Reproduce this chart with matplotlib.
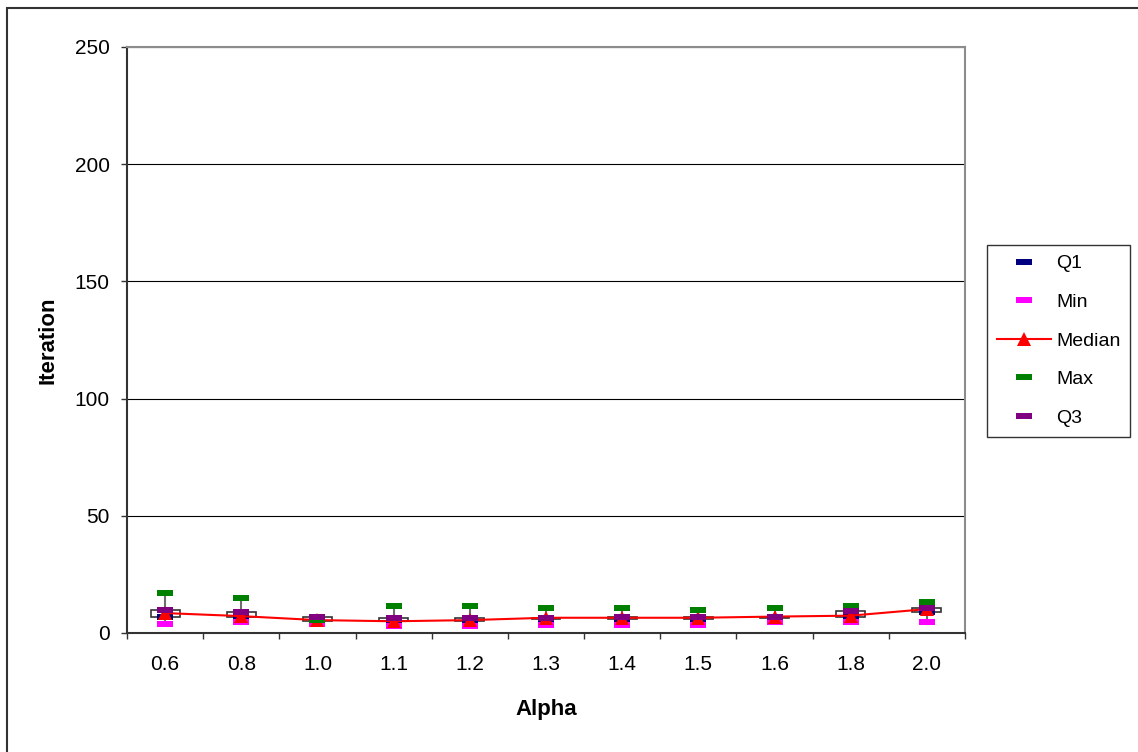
import matplotlib
matplotlib.use('Agg')
import matplotlib.pyplot as plt
from matplotlib.patches import Rectangle
import numpy as np

# Iterations per alpha value (five-number summary)
alpha_labels = ['0.6', '0.8', '1.0', '1.1', '1.2', '1.3', '1.4', '1.5', '1.6', '1.8', '2.0']
it_min = [4, 4.5, 4, 3, 3, 3.5, 3.5, 3.5, 4.7, 4.5, 4.8]
it_q1 = [6.7, 7, 5, 5.3, 5.3, 6, 6, 6, 6.5, 6.8, 9.1]
it_median = [8.5, 7.2, 5.5, 5, 5.5, 6.5, 6.5, 6.5, 7, 7.4, 10.2]
it_max = [17, 15, 5.5, 11.7, 11.5, 10.7, 10.7, 9.8, 10.8, 11.7, 13.4]
it_q3 = [10, 9, 6.7, 6.6, 6.5, 6.6, 7, 7, 7, 9.3, 10.7]

plt.rcParams['font.family'] = ['Liberation Sans', 'DejaVu Sans']

fig = plt.figure(figsize=(11.38, 7.52), dpi=100)
ax = fig.add_axes([127 / 1138, 1 - 633 / 752, (965 - 127) / 1138, (633 - 47) / 752])

x = np.arange(len(alpha_labels))

# flat dash marker, 3:1
dash = [(-3, -1), (3, -1), (3, 1), (-3, 1), (-3, -1)]

# high-low lines
ax.vlines(x, it_min, it_max, color='#6e6e6e', lw=1.5, zorder=2)

# Q1..Q3 boxes
box_w = 0.38
for xi, lo, hi in zip(x, it_q1, it_q3):
    y0, y1 = min(lo, hi), max(lo, hi)
    ax.add_patch(Rectangle((xi - box_w / 2, y0), box_w, y1 - y0,
                           facecolor='white', edgecolor='#333333', lw=1.2, zorder=3))

ax.plot(x, it_q1, linestyle='none', marker=dash, ms=11, color='#000080',
        markeredgewidth=0, label='Q1', zorder=4)
ax.plot(x, it_min, linestyle='none', marker=dash, ms=11, color='#ff00ff',
        markeredgewidth=0, label='Min', zorder=5)
ax.plot(x, it_median, color='#ff0000', lw=1.5, marker='^', ms=10,
        markeredgewidth=0, label='Median', zorder=6)
ax.plot(x, it_max, linestyle='none', marker=dash, ms=11, color='#008000',
        markeredgewidth=0, label='Max', zorder=7)
ax.plot(x, it_q3, linestyle='none', marker=dash, ms=11, color='#800080',
        markeredgewidth=0, label='Q3', zorder=8)

ax.set_xlim(-0.5, len(alpha_labels) - 0.5)
ax.set_ylim(0, 250)
ax.set_yticks(np.arange(0, 251, 50))
ax.yaxis.grid(True, color='#000000', lw=0.8)
ax.set_axisbelow(True)

# ticks on category boundaries, labels at centres
ax.set_xticks(np.arange(-0.5, len(alpha_labels), 1.0))
ax.set_xticklabels([])
ax.set_xticks(x, minor=True)
ax.set_xticklabels(alpha_labels, minor=True)
ax.tick_params(axis='x', which='minor', length=0, pad=16, labelsize=15)
ax.tick_params(axis='x', which='major', length=4.5, width=1, color='#333333', direction='out')
ax.tick_params(axis='y', length=4.5, width=1, color='#333333', direction='out', pad=8, labelsize=15)

for side in ['left', 'bottom']:
    ax.spines[side].set_color('#333333')
    ax.spines[side].set_linewidth(1.5)
for side in ['top', 'right']:
    ax.spines[side].set_color('#8c8c8c')
    ax.spines[side].set_linewidth(1.5)

ax.set_xlabel('Alpha', fontsize=16, fontweight='bold', labelpad=18)
ax.set_ylabel('Iteration', fontsize=16, fontweight='bold', labelpad=11.5)

leg = ax.legend(loc='upper left', bbox_to_anchor=(987 / 1138, 1 - 245 / 752),
                bbox_transform=fig.transFigure, fontsize=14, frameon=True,
                fancybox=False, edgecolor='#000000', handlelength=2.8,
                labelspacing=1.08, borderpad=0.5, handletextpad=0.25,
                borderaxespad=0)
leg.get_frame().set_linewidth(1.0)

# outer chart border
fig.add_artist(Rectangle((7 / 1138, -0.5), 2.0, 0.5 + (1 - 8 / 752),
                         transform=fig.transFigure, fill=False,
                         edgecolor='#333333', lw=1.5, clip_on=False))

fig.savefig('out.png', dpi=100)
